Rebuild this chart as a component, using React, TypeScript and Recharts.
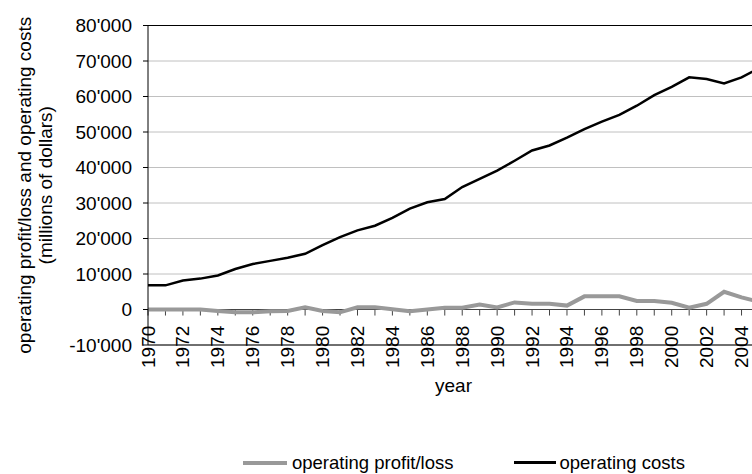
import React from "react";
import {
  LineChart,
  Line,
  CartesianGrid,
  XAxis,
  YAxis,
  Legend,
  ReferenceLine,
} from "recharts";

// years on the category axis
const years = [
  "1970", "1971", "1972", "1973", "1974", "1975", "1976", "1977", "1978", "1979",
  "1980", "1981", "1982", "1983", "1984", "1985", "1986", "1987", "1988", "1989",
  "1990", "1991", "1992", "1993", "1994", "1995", "1996", "1997", "1998", "1999",
  "2000", "2001", "2002", "2003", "2004", "2005",
];

// millions of dollars
const operatingProfitLoss = [
  0, 0, 0, 0, -400, -800, -800, -500, -400, 600,
  -400, -800, 600, 600, 100, -500, 0, 500, 500, 1400,
  600, 2000, 1600, 1600, 1100, 3700, 3700, 3700, 2400, 2400,
  1900, 500, 1600, 5000, 3400, 2200,
];

const operatingCosts = [
  6800, 6800, 8150, 8700, 9600, 11400, 12800, 13700, 14600, 15700,
  18100, 20400, 22300, 23600, 25800, 28400, 30200, 31100, 34500, 36800,
  39100, 41900, 44800, 46200, 48400, 50800, 52900, 54800, 57400, 60400,
  62700, 65400, 64900, 63700, 65400, 68000,
];

const yTicks = [-10000, 0, 10000, 20000, 30000, 40000, 50000, 60000, 70000, 80000];

const data = years.map((year, i) => ({
  year,
  profit: operatingProfitLoss[i],
  costs: operatingCosts[i],
}));

const FONT = '"Liberation Sans", Arial, sans-serif';
const TICK_LEN = 1700; // small year tick below the zero line, in data units

const fmt = (v: number) => {
  const s = String(Math.abs(v)).replace(/\B(?=(\d{3})+(?!\d))/g, "'");
  return v < 0 ? "-" + s : s;
};

const XTick = (props: any) => {
  const { x, y, payload } = props;
  return (
    <text
      x={x}
      y={y}
      transform={`rotate(-90 ${x} ${y})`}
      textAnchor="start"
      dominantBaseline="central"
      fontSize={19}
      fontFamily={FONT}
      fill="#000"
    >
      {payload.value}
    </text>
  );
};

const YTitle = (props: any) => {
  const vb = props.viewBox || { y: 25.5, height: 319.5 };
  const cy = vb.y + vb.height / 2;
  return (
    <g fontSize={19} fontFamily={FONT} fill="#000">
      <text x={24} y={cy} transform={`rotate(-90 24 ${cy})`} textAnchor="middle" dominantBaseline="central">
        operating profit/loss and operating costs
      </text>
      <text x={45} y={cy} transform={`rotate(-90 45 ${cy})`} textAnchor="middle" dominantBaseline="central">
        (millions of dollars)
      </text>
    </g>
  );
};

const renderLegend = () => {
  const items = [
    { label: "operating profit/loss", color: "#999999", w: 44, h: 4, gap: 5 },
    { label: "operating costs", color: "#000000", w: 42, h: 3, gap: 3 },
  ];
  return (
    <div style={{ display: "flex", alignItems: "center", fontFamily: FONT, fontSize: 18.5, lineHeight: "21px", paddingLeft: 243 }}>
      {items.map((it, i) => (
        <div key={it.label} style={{ display: "flex", alignItems: "center", marginRight: i === 0 ? 61 : 0 }}>
          <div style={{ width: it.w, height: it.h, background: it.color, marginRight: it.gap }} />
          <span style={{ color: "#000", whiteSpace: "nowrap" }}>{it.label}</span>
        </div>
      ))}
    </div>
  );
};

export default function App() {
  return (
    <div
      style={{
        position: "fixed",
        left: 0,
        top: 0,
        width: 752,
        height: 474,
        overflow: "hidden",
        background: "#fff",
      }}
    >
      <LineChart
        width={775}
        height={474}
        data={data}
        margin={{ top: 25.5, right: 16, bottom: 69, left: 0 }}
      >
        <CartesianGrid horizontal vertical={false} stroke="#c0c0c0" />
        <XAxis
          dataKey="year"
          interval={1}
          height={60}
          tickSize={0}
          tickMargin={23}
          axisLine={false}
          tickLine={false}
          tick={<XTick />}
          label={{ value: "year", position: "insideBottom", offset: 13.5, fontSize: 19, fontFamily: FONT, fill: "#000" }}
        />
        <YAxis
          width={148}
          domain={[-10000, 80000]}
          ticks={yTicks}
          interval={0}
          tickFormatter={fmt}
          tickSize={5}
          tickMargin={11}
          axisLine={{ stroke: "#000" }}
          tickLine={{ stroke: "#000" }}
          tick={{ fontSize: 19, fontFamily: FONT, fill: "#000" }}
          label={{ content: <YTitle /> }}
        />
        <ReferenceLine y={80000} stroke="#000" />
        <ReferenceLine y={-10000} stroke="#000" />
        <ReferenceLine y={0} stroke="#444" />
        {years.map((yr) => (
          <ReferenceLine
            key={yr}
            segment={[{ x: yr, y: 0 }, { x: yr, y: -TICK_LEN }]}
            stroke="#444"
          />
        ))}
        <Legend
          layout="horizontal"
          verticalAlign="middle"
          align="center"
          content={renderLegend}
          wrapperStyle={{ top: 452, left: 0, width: 775 }}
        />
        <Line
          type="linear"
          dataKey="profit"
          name="operating profit/loss"
          stroke="#999999"
          strokeWidth={4}
          dot={false}
          isAnimationActive={false}
        />
        <Line
          type="linear"
          dataKey="costs"
          name="operating costs"
          stroke="#000000"
          strokeWidth={2.5}
          dot={false}
          isAnimationActive={false}
        />
      </LineChart>
    </div>
  );
}
